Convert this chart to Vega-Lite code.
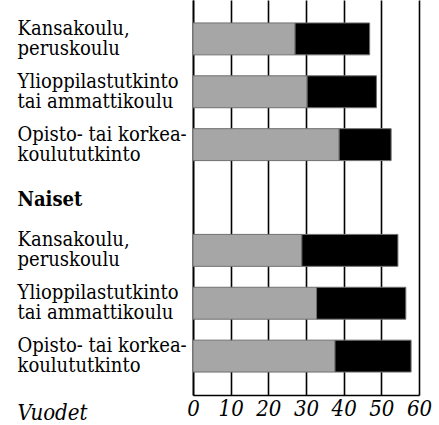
{
  "$schema": "https://vega.github.io/schema/vega-lite/v6.json",
  "autosize": {"type": "none"},
  "padding": {"left": 193, "top": 0, "right": 20, "bottom": 30},
  "width": 226,
  "height": 395,
  "background": "white",
  "config": {
    "view": {"stroke": null},
    "font": "DejaVu Serif Condensed, DejaVu Serif",
    "axis": {"labelFont": "DejaVu Serif Condensed, DejaVu Serif", "titleFont": "DejaVu Serif Condensed, DejaVu Serif", "labelColor": "black", "titleColor": "black"},
    "axisX": {"grid": true, "gridColor": "#000000", "gridWidth": 1.6, "gridOpacity": 1}
  },
  "data": {
    "values": [
      {"rivi": "M|Kansakoulu,|peruskoulu", "osa": "A", "vuodet": 27.1},
      {"rivi": "M|Kansakoulu,|peruskoulu", "osa": "B", "vuodet": 19.8},
      {"rivi": "M|Ylioppilastutkinto|tai ammattikoulu", "osa": "A", "vuodet": 30.3},
      {"rivi": "M|Ylioppilastutkinto|tai ammattikoulu", "osa": "B", "vuodet": 18.4},
      {"rivi": "M|Opisto- tai korkea-|koulututkinto", "osa": "A", "vuodet": 38.8},
      {"rivi": "M|Opisto- tai korkea-|koulututkinto", "osa": "B", "vuodet": 13.8},
      {"rivi": "N|Kansakoulu,|peruskoulu", "osa": "A", "vuodet": 28.9},
      {"rivi": "N|Kansakoulu,|peruskoulu", "osa": "B", "vuodet": 25.5},
      {"rivi": "N|Ylioppilastutkinto|tai ammattikoulu", "osa": "A", "vuodet": 32.8},
      {"rivi": "N|Ylioppilastutkinto|tai ammattikoulu", "osa": "B", "vuodet": 23.7},
      {"rivi": "N|Opisto- tai korkea-|koulututkinto", "osa": "A", "vuodet": 37.7},
      {"rivi": "N|Opisto- tai korkea-|koulututkinto", "osa": "B", "vuodet": 20.2}
    ]
  },
  "mark": {"type": "bar", "stroke": "#707070", "strokeWidth": 1},
  "encoding": {
    "y": {
      "field": "rivi",
      "type": "nominal",
      "scale": {
        "domain": [
          "M|Kansakoulu,|peruskoulu",
          "M|Ylioppilastutkinto|tai ammattikoulu",
          "M|Opisto- tai korkea-|koulututkinto",
          "N|Naiset",
          "N|Kansakoulu,|peruskoulu",
          "N|Ylioppilastutkinto|tai ammattikoulu",
          "N|Opisto- tai korkea-|koulututkinto"
        ],
        "paddingInner": 0.396,
        "paddingOuter": 0.434
      },
      "axis": {
        "title": null,
        "grid": false,
        "ticks": false,
        "domainColor": "black",
        "domainWidth": 1.6,
        "labelExpr": "slice(split(datum.label, '|'), 1)",
        "labelAlign": "left",
        "labelBaseline": "middle",
        "labelPadding": 176,
        "labelLimit": 0,
        "labelFontSize": 20,
        "labelLineHeight": 20,
        "labelOffset": {"condition": {"test": "datum.value == 'N|Naiset'", "value": 2}, "value": -10},
        "labelFontWeight": {"condition": {"test": "datum.value == 'N|Naiset'", "value": "bold"}, "value": "normal"}
      }
    },
    "x": {
      "field": "vuodet",
      "type": "quantitative",
      "stack": "zero",
      "scale": {"domain": [0, 60], "nice": false},
      "axis": {
        "values": [0, 10, 20, 30, 40, 50, 60],
        "ticks": false,
        "domainColor": "black",
        "domainWidth": 1.6,
        "labelFontStyle": "italic",
        "labelFontSize": 22,
        "labelPadding": 3,
        "labelFlush": false,
        "title": "Vuodet",
        "titleFontStyle": "italic",
        "titleFontWeight": "normal",
        "titleFontSize": 22,
        "titleAlign": "left",
        "titleBaseline": "alphabetic",
        "titleX": -176,
        "titleY": 24
      }
    },
    "color": {
      "field": "osa",
      "type": "nominal",
      "scale": {"domain": ["A", "B"], "range": ["#a6a6a6", "#000000"]},
      "legend": null
    },
    "order": {"field": "osa", "type": "nominal"}
  }
}
